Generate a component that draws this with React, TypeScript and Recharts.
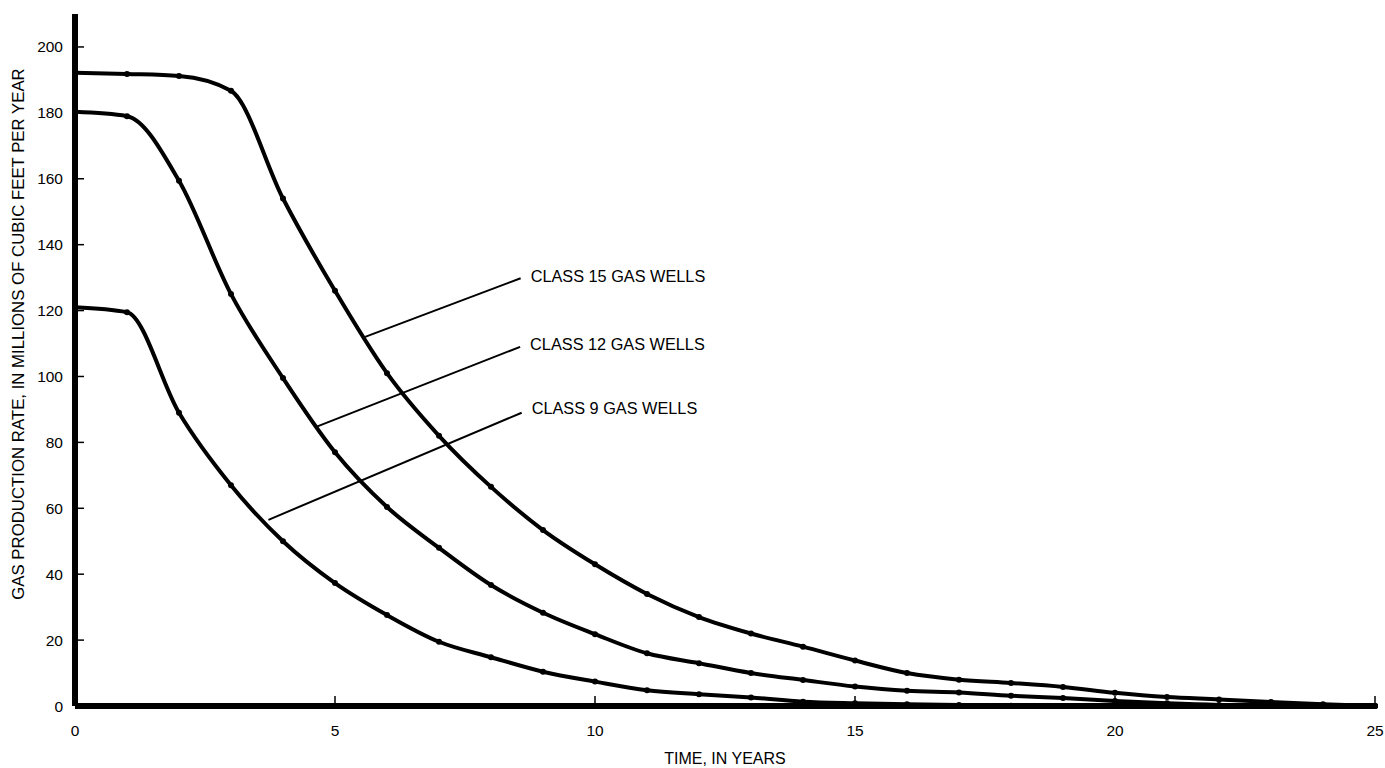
import React from 'react';
import { LineChart, Line, XAxis, YAxis, ReferenceLine, ReferenceDot, Label } from 'recharts';

const years = [0, 1, 2, 3, 4, 5, 6, 7, 8, 9, 10, 11, 12, 13, 14, 15, 16, 17, 18, 19, 20, 21, 22, 23, 24, 25];
const class15 = [192.2, 191.8, 191.2, 186.7, 154, 126, 101, 82, 66.5, 53.4, 43, 34, 27, 22, 18, 13.8, 10, 8, 7, 5.8, 4, 2.7, 2, 1.2, 0.5, 0];
const class12 = [180.3, 179, 159.4, 125, 99.5, 77, 60.4, 48, 36.7, 28.3, 21.8, 16, 13, 10, 7.9, 5.9, 4.6, 4.1, 3.1, 2.4, 1.5, 0.8, 0.3, 0.1, 0, 0];
const class9 = [121, 119.5, 89, 67, 50, 37.3, 27.6, 19.5, 14.8, 10.4, 7.4, 4.8, 3.6, 2.6, 1.3, 0.8, 0.5, 0.3, 0.1, 0, 0, 0, 0, 0, 0, 0];

const xTicks = [0, 5, 10, 15, 20, 25];
const yTicks = [0, 20, 40, 60, 80, 100, 120, 140, 160, 180, 200];

const labelNames = ['CLASS 15 GAS WELLS', 'CLASS 12 GAS WELLS', 'CLASS 9 GAS WELLS'];
const leaderStartX = [5.58, 4.65, 3.72];
const leaderStartY = [112, 84.8, 56.5];
const leaderEndX = [8.57, 8.56, 8.59];
const leaderEndY = [129.8, 109, 89];
const labelY = [130.5, 109.9, 90.3];

const xTitle = 'TIME, IN YEARS';
const yTitle = 'GAS PRODUCTION RATE, IN MILLIONS OF CUBIC FEET PER YEAR';

const FONT = '"Liberation Sans", Arial, Helvetica, sans-serif';

const data = years.map((t, i) => ({ t, c15: class15[i], c12: class12[i], c9: class9[i] }));

const dotStyle = { r: 3, fill: '#000', stroke: '#000', strokeWidth: 0 };

export default function App() {
  return (
    <div style={{ position: 'absolute', left: 0, top: 0, width: 1385, height: 768, background: '#fff' }}>
      <LineChart width={1385} height={768} data={data} margin={{ top: 14, right: 10, left: 0, bottom: 0 }}>
        <XAxis
          dataKey="t"
          type="number"
          domain={[0, 25]}
          ticks={xTicks}
          interval={0}
          height={62}
          axisLine={{ stroke: '#000', strokeWidth: 6 }}
          tickLine={{ stroke: '#000', strokeWidth: 1.5 }}
          tickSize={-10}
          tickMargin={29}
          tick={{ fill: '#000', fontSize: 15.5, fontFamily: FONT }}
        >
          <Label value={xTitle} position="insideBottom" offset={4} fill="#000" fontSize={16} fontFamily={FONT} />
        </XAxis>
        <YAxis
          type="number"
          domain={[0, 210]}
          ticks={yTicks}
          interval={0}
          width={75}
          axisLine={{ stroke: '#000', strokeWidth: 6 }}
          tickLine={{ stroke: '#000', strokeWidth: 1.5 }}
          tickSize={-9}
          tickMargin={21}
          tick={{ fill: '#000', fontSize: 15.5, fontFamily: FONT }}
        >
          <Label
            content={() => (
              <text
                x={18}
                y={334}
                transform="rotate(-90 18 334)"
                textAnchor="middle"
                dominantBaseline="central"
                fill="#000"
                fontSize={16.8}
                fontFamily={FONT}
              >
                {yTitle}
              </text>
            )}
          />
        </YAxis>
        <Line type="monotone" dataKey="c15" stroke="#000" strokeWidth={4} dot={dotStyle} activeDot={false} isAnimationActive={false} />
        <Line type="monotone" dataKey="c12" stroke="#000" strokeWidth={4} dot={dotStyle} activeDot={false} isAnimationActive={false} />
        <Line type="monotone" dataKey="c9" stroke="#000" strokeWidth={4} dot={dotStyle} activeDot={false} isAnimationActive={false} />
        {labelNames.map((name, i) => (
          <ReferenceLine
            key={'l' + i}
            segment={[
              { x: leaderStartX[i], y: leaderStartY[i] },
              { x: leaderEndX[i], y: leaderEndY[i] },
            ]}
            stroke="#000"
            strokeWidth={2}
          />
        ))}
        {labelNames.map((name, i) => (
          <ReferenceDot
            key={'d' + i}
            x={leaderEndX[i]}
            y={labelY[i]}
            r={0}
            fill="none"
            stroke="none"
            label={{ value: name, position: 'right', offset: 10, fill: '#000', fontSize: 16.3, fontFamily: FONT }}
          />
        ))}
      </LineChart>
    </div>
  );
}
